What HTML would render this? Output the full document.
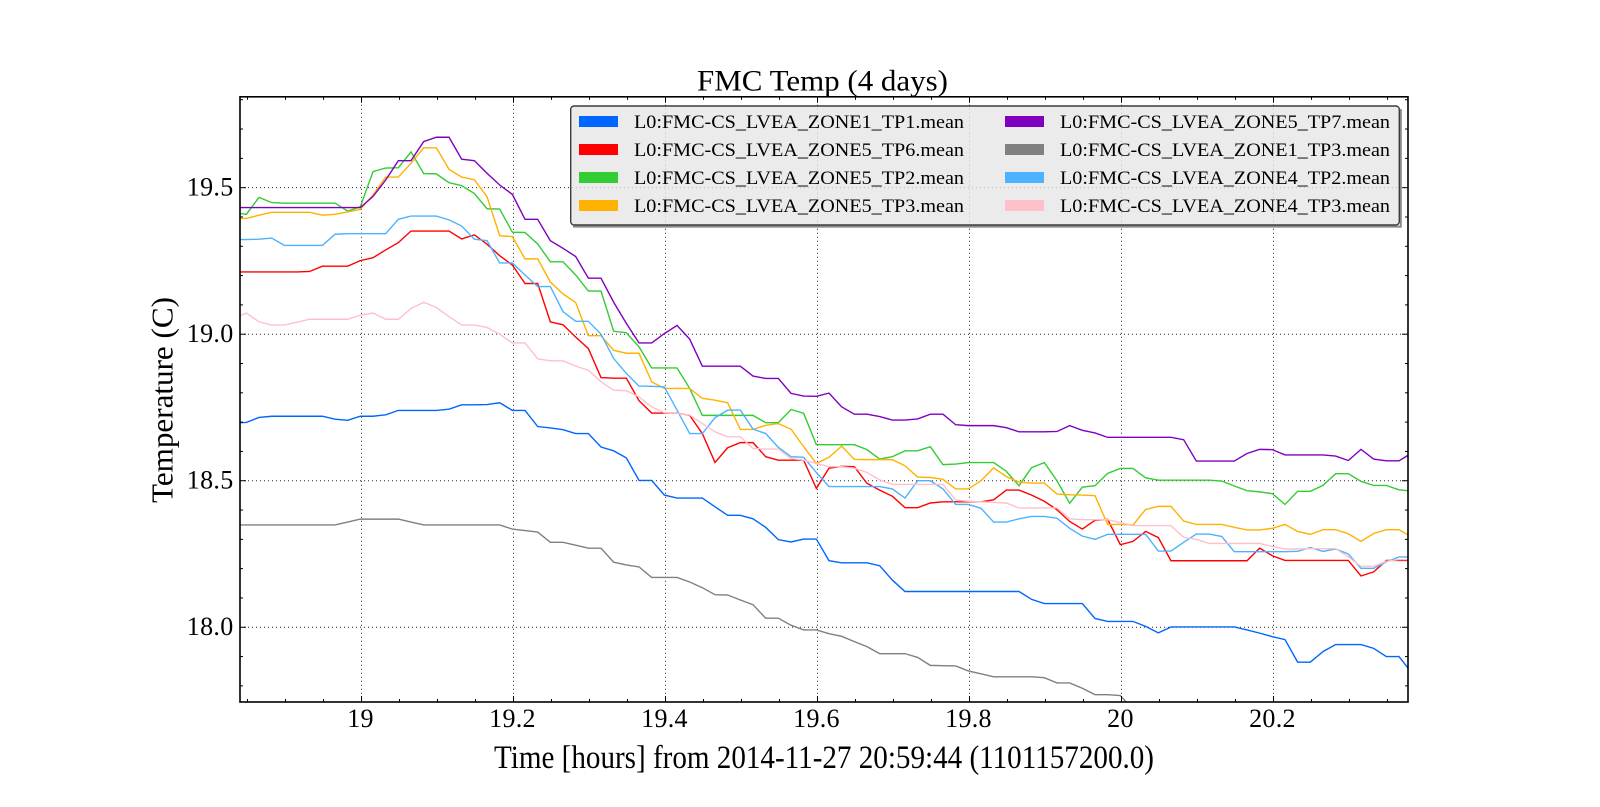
<!DOCTYPE html>
<html lang="en">
<head>
<meta charset="utf-8">
<title>FMC Temp (4 days)</title>
<style>
html,body{margin:0;padding:0;background:#fff;}
svg{display:block;}
text{font-family:"Liberation Serif",serif;fill:#000;}
</style>
</head>
<body>
<svg id="chart" width="1600" height="807" viewBox="0 0 1600 807" xmlns="http://www.w3.org/2000/svg">
  <defs><clipPath id="plot-clip"><rect x="240" y="96.8" width="1168" height="605.2"/></clipPath></defs>
  <rect x="0" y="0" width="1600" height="807" fill="#fff"/>
  <g id="grid"></g>
  <g id="series" clip-path="url(#plot-clip)"></g>
  <g id="ticks"></g>
  <rect x="240" y="96.8" width="1168" height="605.2" fill="none" stroke="#000" stroke-width="1.6"/>
  <g id="tick-labels" font-size="26" letter-spacing="0.3"></g>

  <text x="822.5" y="90.5" font-size="30" text-anchor="middle" textLength="251" lengthAdjust="spacingAndGlyphs">FMC Temp (4 days)</text>
  <text x="824" y="768" font-size="33" text-anchor="middle" textLength="660" lengthAdjust="spacingAndGlyphs">Time [hours] from 2014-11-27 20:59:44 (1101157200.0)</text>
  <text transform="translate(172.5 400) rotate(-90)" font-size="31" text-anchor="middle" textLength="206" lengthAdjust="spacingAndGlyphs">Temperature (C)</text>

  <g>
    <polyline points="1400.8,109 1400.8,226.6 573,226.6" fill="none" stroke="#888" stroke-width="2"/>
    <rect x="570.7" y="106" width="828.6" height="119" rx="3.5" ry="3.5" fill="#e6e6e6" fill-opacity="0.8" stroke="#3c3c3c" stroke-width="1.4"/>
    <g><rect x="579" y="116" width="39" height="11" fill="#0066ff"/><text x="634" y="128" font-size="19" textLength="330" lengthAdjust="spacingAndGlyphs">L0:FMC-CS_LVEA_ZONE1_TP1.mean</text></g>
    <g><rect x="579" y="144" width="39" height="11" fill="#ff0000"/><text x="634" y="156" font-size="19" textLength="330" lengthAdjust="spacingAndGlyphs">L0:FMC-CS_LVEA_ZONE5_TP6.mean</text></g>
    <g><rect x="579" y="172" width="39" height="11" fill="#33cc33"/><text x="634" y="184" font-size="19" textLength="330" lengthAdjust="spacingAndGlyphs">L0:FMC-CS_LVEA_ZONE5_TP2.mean</text></g>
    <g><rect x="579" y="200" width="39" height="11" fill="#ffb200"/><text x="634" y="212" font-size="19" textLength="330" lengthAdjust="spacingAndGlyphs">L0:FMC-CS_LVEA_ZONE5_TP3.mean</text></g>
    <g><rect x="1005" y="116" width="39" height="11" fill="#8000bf"/><text x="1060" y="128" font-size="19" textLength="330" lengthAdjust="spacingAndGlyphs">L0:FMC-CS_LVEA_ZONE5_TP7.mean</text></g>
    <g><rect x="1005" y="144" width="39" height="11" fill="#808080"/><text x="1060" y="156" font-size="19" textLength="330" lengthAdjust="spacingAndGlyphs">L0:FMC-CS_LVEA_ZONE1_TP3.mean</text></g>
    <g><rect x="1005" y="172" width="39" height="11" fill="#4db2ff"/><text x="1060" y="184" font-size="19" textLength="330" lengthAdjust="spacingAndGlyphs">L0:FMC-CS_LVEA_ZONE4_TP2.mean</text></g>
    <g><rect x="1005" y="200" width="39" height="11" fill="#ffc0cb"/><text x="1060" y="212" font-size="19" textLength="330" lengthAdjust="spacingAndGlyphs">L0:FMC-CS_LVEA_ZONE4_TP3.mean</text></g>
  </g>
</svg>
<script>
const sampleStartHours = 18.8318;
const sampleStepHours = 1 / 60;

const xTickValues = [19, 19.2, 19.4, 19.6, 19.8, 20, 20.2];
const xTickLabels = ["19", "19.2", "19.4", "19.6", "19.8", "20", "20.2"];
const xMinorTickValues = [18.85, 18.9, 18.95, 19.05, 19.1, 19.15, 19.25, 19.3, 19.35, 19.45, 19.5, 19.55, 19.65, 19.7, 19.75, 19.85, 19.9, 19.95, 20.05, 20.1, 20.15, 20.25, 20.3, 20.35];
const yTickValues = [18, 18.5, 19, 19.5];
const yTickLabels = ["18.0", "18.5", "19.0", "19.5"];
const yMinorTickValues = [17.8, 17.9, 18.1, 18.2, 18.3, 18.4, 18.6, 18.7, 18.8, 18.9, 19.1, 19.2, 19.3, 19.4, 19.6, 19.7, 19.8];

const zone1Tp1 = [18.697,18.699,18.716,18.72,18.72,18.72,18.72,18.72,18.71,18.706,
18.72,18.72,18.725,18.74,18.74,18.74,18.74,18.744,18.759,18.759,
18.76,18.766,18.74,18.74,18.685,18.68,18.674,18.661,18.661,18.615,
18.602,18.578,18.501,18.501,18.451,18.441,18.441,18.441,18.411,18.382,
18.382,18.37,18.341,18.299,18.291,18.301,18.301,18.227,18.22,18.22,
18.22,18.21,18.161,18.122,18.122,18.122,18.122,18.122,18.122,18.122,
18.122,18.122,18.122,18.095,18.081,18.081,18.081,18.081,18.03,18.02,
18.02,18.02,18.003,17.981,18.001,18.001,18.001,18.001,18.001,18.001,
17.991,17.98,17.968,17.958,17.881,17.881,17.917,17.941,17.941,17.941,
17.928,17.9,17.9,17.845];

const zone5Tp6 = [19.2125,19.2125,19.2125,19.2125,19.2125,19.2125,19.214,19.232,19.232,19.232,
19.251,19.261,19.2875,19.3125,19.352,19.352,19.352,19.352,19.325,19.339,
19.307,19.268,19.236,19.173,19.173,19.042,19.032,18.99,18.951,18.852,
18.85,18.85,18.773,18.731,18.731,18.731,18.723,18.661,18.5625,18.6125,
18.63,18.63,18.582,18.57,18.57,18.57,18.474,18.543,18.549,18.548,
18.491,18.468,18.447,18.408,18.408,18.424,18.428,18.428,18.428,18.428,
18.435,18.468,18.468,18.451,18.43,18.401,18.361,18.335,18.365,18.368,
18.282,18.293,18.327,18.306,18.227,18.227,18.227,18.227,18.227,18.227,
18.227,18.27,18.244,18.228,18.228,18.228,18.228,18.228,18.228,18.175,
18.189,18.228,18.228,18.228];

const zone5Tp2 = [19.415,19.409,19.467,19.449,19.447,19.447,19.447,19.447,19.447,19.42,
19.435,19.555,19.567,19.568,19.622,19.548,19.547,19.517,19.507,19.48,
19.428,19.427,19.348,19.347,19.308,19.247,19.247,19.202,19.147,19.147,
19.01,19.005,18.957,18.885,18.885,18.885,18.815,18.723,18.723,18.723,
18.723,18.723,18.698,18.698,18.743,18.73,18.623,18.623,18.623,18.623,
18.606,18.574,18.582,18.602,18.602,18.616,18.555,18.557,18.562,18.562,
18.562,18.532,18.483,18.545,18.562,18.5,18.423,18.478,18.483,18.525,
18.542,18.542,18.51,18.502,18.502,18.502,18.502,18.502,18.499,18.482,
18.466,18.462,18.456,18.419,18.464,18.464,18.484,18.524,18.524,18.498,
18.484,18.484,18.469,18.465];

const zone5Tp3 = [19.395,19.395,19.406,19.416,19.416,19.416,19.416,19.406,19.409,19.417,
19.426,19.475,19.536,19.536,19.583,19.636,19.636,19.5625,19.536,19.527,
19.469,19.336,19.333,19.257,19.257,19.178,19.1375,19.108,18.995,18.995,
18.945,18.935,18.935,18.8375,18.815,18.815,18.815,18.781,18.775,18.766,
18.675,18.675,18.689,18.695,18.676,18.616,18.559,18.58,18.618,18.573,
18.572,18.572,18.572,18.551,18.5125,18.511,18.505,18.472,18.472,18.5,
18.544,18.514,18.495,18.492,18.492,18.4545,18.452,18.451,18.449,18.351,
18.351,18.349,18.402,18.4125,18.4125,18.3625,18.351,18.351,18.351,18.341,
18.332,18.332,18.3375,18.351,18.327,18.317,18.333,18.333,18.319,18.293,
18.32,18.333,18.333,18.308];

const zone5Tp7 = [19.432,19.432,19.432,19.432,19.432,19.432,19.432,19.432,19.432,19.432,
19.432,19.47,19.526,19.592,19.592,19.657,19.672,19.672,19.597,19.592,
19.549,19.509,19.477,19.392,19.392,19.319,19.293,19.265,19.191,19.191,
19.109,19.037,18.97,18.97,19.002,19.03,18.983,18.891,18.891,18.891,
18.891,18.857,18.849,18.849,18.798,18.789,18.788,18.799,18.752,18.727,
18.727,18.719,18.707,18.707,18.711,18.727,18.727,18.691,18.688,18.688,
18.688,18.681,18.667,18.667,18.667,18.668,18.688,18.672,18.663,18.648,
18.648,18.648,18.648,18.648,18.648,18.64,18.567,18.567,18.567,18.567,
18.593,18.607,18.606,18.588,18.588,18.588,18.588,18.584,18.569,18.607,
18.574,18.568,18.568,18.594];

const zone1Tp3 = [18.349,18.349,18.349,18.349,18.349,18.349,18.349,18.349,18.349,18.359,
18.369,18.369,18.369,18.369,18.359,18.349,18.349,18.349,18.349,18.349,
18.349,18.349,18.335,18.33,18.325,18.29,18.29,18.28,18.27,18.27,
18.222,18.2125,18.206,18.17,18.17,18.17,18.1545,18.135,18.111,18.11,
18.093,18.077,18.031,18.031,18.007,17.991,17.991,17.978,17.969,17.951,
17.934,17.91,17.91,17.91,17.897,17.87,17.869,17.868,17.851,17.841,
17.831,17.831,17.831,17.831,17.828,17.81,17.81,17.792,17.77,17.77,
17.767,17.72];

const zone4Tp2 = [19.323,19.323,19.324,19.328,19.303,19.303,19.303,19.303,19.341,19.343,
19.343,19.343,19.343,19.392,19.403,19.403,19.403,19.39,19.369,19.324,
19.319,19.243,19.243,19.202,19.1625,19.1625,19.077,19.044,19.044,19.0,
18.917,18.866,18.823,18.822,18.82,18.741,18.661,18.661,18.715,18.741,
18.741,18.676,18.661,18.614,18.582,18.58,18.528,18.48,18.48,18.48,
18.48,18.48,18.472,18.441,18.5,18.5,18.472,18.419,18.419,18.406,
18.359,18.359,18.37,18.378,18.378,18.372,18.3375,18.311,18.3,18.317,
18.317,18.317,18.317,18.26,18.26,18.29,18.318,18.318,18.31,18.258,
18.258,18.258,18.258,18.258,18.259,18.272,18.259,18.267,18.25,18.201,
18.201,18.223,18.24,18.24];

const zone4Tp3 = [19.055,19.072,19.042,19.031,19.031,19.041,19.051,19.051,19.051,19.051,
19.065,19.072,19.051,19.051,19.0875,19.109,19.091,19.06,19.031,19.031,
19.023,19.0,18.97,18.97,18.916,18.909,18.909,18.891,18.877,18.8375,
18.809,18.807,18.786,18.752,18.732,18.73,18.724,18.695,18.667,18.65,
18.65,18.61,18.608,18.608,18.576,18.57,18.559,18.548,18.548,18.543,
18.528,18.503,18.4875,18.4875,18.4875,18.4875,18.4875,18.434,18.43,18.428,
18.426,18.424,18.407,18.407,18.407,18.407,18.37,18.367,18.367,18.367,
18.357,18.347,18.347,18.347,18.347,18.307,18.3,18.286,18.286,18.286,
18.286,18.286,18.276,18.267,18.267,18.268,18.268,18.268,18.24,18.208,
18.208,18.225,18.231,18.231];

const seriesNames = ["zone1-tp1", "zone5-tp6", "zone5-tp2", "zone5-tp3", "zone5-tp7", "zone1-tp3", "zone4-tp2", "zone4-tp3"];
const seriesColors = ["#0066ff", "#ff0000", "#33cc33", "#ffb200", "#8000bf", "#808080", "#4db2ff", "#ffc0cb"];
const seriesValues = [zone1Tp1, zone5Tp6, zone5Tp2, zone5Tp3, zone5Tp7, zone1Tp3, zone4Tp2, zone4Tp3];

const plotLeft = 240, plotRight = 1408, plotTop = 96.8, plotBottom = 702;
const xMin = 18.8401, xMax = 20.377, yMin = 17.745, yMax = 19.81;
function xScale(t) { return plotLeft + (t - xMin) / (xMax - xMin) * (plotRight - plotLeft); }
function yScale(v) { return plotBottom - (v - yMin) / (yMax - yMin) * (plotBottom - plotTop); }

const SVG_NS = "http://www.w3.org/2000/svg";
function seg(parent, x1, y1, x2, y2, stroke, width) {
  const l = document.createElementNS(SVG_NS, "line");
  l.setAttribute("x1", x1);
  l.setAttribute("y1", y1);
  l.setAttribute("x2", x2);
  l.setAttribute("y2", y2);
  l.setAttribute("stroke", stroke);
  l.setAttribute("stroke-width", width);
  parent.appendChild(l);
  return l;
}

const gridG = document.getElementById("grid");
const ticksG = document.getElementById("ticks");
const labelsG = document.getElementById("tick-labels");
const seriesG = document.getElementById("series");

xTickValues.forEach(function (t, i) {
  const x = xScale(t);
  const g = seg(gridG, x, plotTop, x, plotBottom, "#000", 1);
  g.setAttribute("stroke-dasharray", "1 3");
  g.setAttribute("stroke-opacity", "0.85");
  
  
  const b = seg(ticksG, x, plotBottom, x, plotBottom - 6, "#000", 1);
  
  
  const u = seg(ticksG, x, plotTop, x, plotTop + 6, "#000", 1);
  
  
  const tx = document.createElementNS(SVG_NS, "text");
  tx.setAttribute("x", x - 1);
  tx.setAttribute("y", 727);
  tx.setAttribute("text-anchor", "middle");
  tx.textContent = xTickLabels[i];
  
  
  labelsG.appendChild(tx);
});

xMinorTickValues.forEach(function (t) {
  const x = xScale(t);
  const b = seg(ticksG, x, plotBottom, x, plotBottom - 3, "#000", 1);
  
  
  const u = seg(ticksG, x, plotTop, x, plotTop + 3, "#000", 1);
  
  
});

yTickValues.forEach(function (v, i) {
  const y = yScale(v);
  const g = seg(gridG, plotLeft, y, plotRight, y, "#000", 1);
  g.setAttribute("stroke-dasharray", "1 3");
  g.setAttribute("stroke-opacity", "0.85");
  
  
  const a = seg(ticksG, plotLeft, y, plotLeft + 6, y, "#000", 1);
  
  
  const r = seg(ticksG, plotRight, y, plotRight - 6, y, "#000", 1);
  
  
  const tx = document.createElementNS(SVG_NS, "text");
  tx.setAttribute("x", 233.5);
  tx.setAttribute("y", y + 7.6);
  tx.setAttribute("text-anchor", "end");
  tx.textContent = yTickLabels[i];
  
  
  labelsG.appendChild(tx);
});

yMinorTickValues.forEach(function (v) {
  const y = yScale(v);
  const a = seg(ticksG, plotLeft, y, plotLeft + 3, y, "#000", 1);
  
  
  const r = seg(ticksG, plotRight, y, plotRight - 3, y, "#000", 1);
  
  
});

seriesValues.forEach(function (values, s) {
  const pts = values.map(function (v, i) {
    return xScale(sampleStartHours + i * sampleStepHours).toFixed(2) + "," + yScale(v).toFixed(2);
  }).join(" ");
  const line = document.createElementNS(SVG_NS, "polyline");
  line.setAttribute("points", pts);
  line.setAttribute("fill", "none");
  line.setAttribute("stroke", seriesColors[s]);
  line.setAttribute("stroke-width", "1.4");
  line.setAttribute("stroke-linejoin", "miter");
  
  
  seriesG.appendChild(line);
});
</script>
</body>
</html>
